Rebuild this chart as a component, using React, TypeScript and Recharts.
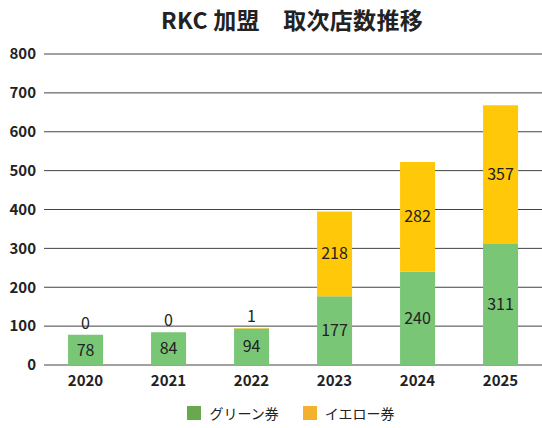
import React from "react";
import { BarChart, Bar, XAxis, YAxis, CartesianGrid, LabelList } from "recharts";

const years = ["2020", "2021", "2022", "2023", "2024", "2025"];
const green = [78, 84, 94, 177, 240, 311];
const yellow = [0, 0, 1, 218, 282, 357];
const yTicks = [0, 100, 200, 300, 400, 500, 600, 700, 800];

const data = years.map((y, i) => ({ year: y, green: green[i], yellow: yellow[i] }));

const FONT = '"Noto Sans CJK JP", "Noto Sans", sans-serif';
const GREEN = "#7AC677";
const YELLOW = "#FFC808";
const LABEL_SIZE = 16;

const TopLabel = ({ cx, y, value }: { cx: number; y: number; value: number }) => (
  <text x={cx} y={y - 6} textAnchor="middle" fontSize={LABEL_SIZE} fill="#222" fontFamily={FONT}>
    {value}
  </text>
);

const YellowLabel = (props: any) => {
  const { x, y, width, height, value } = props;
  if (value === 0 || value == null) return null;
  const cx = x + width / 2;
  if (value < 20) return <TopLabel cx={cx} y={y} value={value} />;
  return (
    <text x={cx} y={y + height / 2} dy="0.35em" textAnchor="middle" fontSize={LABEL_SIZE} fill="#222" fontFamily={FONT}>
      {value}
    </text>
  );
};

const ZeroYellowLabel = (props: any) => {
  const { x, y, width, index } = props;
  const v = yellow[index];
  if (v !== 0) return null;
  return <TopLabel cx={x + width / 2} y={y} value={v} />;
};

export default function App() {
  return (
    <div style={{ position: "fixed", left: 0, top: 0, width: 542, height: 428, background: "#fff", fontFamily: FONT }}>
      <div style={{ position: "absolute", left: 0, top: 2, width: 584, textAlign: "center", fontSize: 23, fontWeight: 700, color: "#222", letterSpacing: 0.3 }}>
        RKC 加盟　取次店数推移
      </div>
      <BarChart
        width={542}
        height={428}
        data={data}
        margin={{ top: 54, right: 0, left: 0, bottom: 33 }}
        barCategoryGap="29%"
      >
        <CartesianGrid vertical={false} stroke="#444" strokeWidth={1} />
        <XAxis
          dataKey="year"
          axisLine={false}
          tickLine={false}
          height={30}
          tickMargin={4}
          tick={{ fontSize: 15, fontWeight: 700, fill: "#222", fontFamily: FONT }}
        />
        <YAxis
          width={44}
          domain={[0, 800]}
          ticks={yTicks}
          axisLine={false}
          tickLine={false}
          tick={{ fontSize: 15, fontWeight: 700, fill: "#222", fontFamily: FONT }}
        />
        <Bar dataKey="green" stackId="a" fill={GREEN} isAnimationActive={false}>
          <LabelList dataKey="green" position="center" fontSize={LABEL_SIZE} fill="#222" fontFamily={FONT} />
          <LabelList dataKey="green" content={<ZeroYellowLabel />} />
        </Bar>
        <Bar dataKey="yellow" stackId="a" fill={YELLOW} isAnimationActive={false}>
          <LabelList dataKey="yellow" content={<YellowLabel />} />
        </Bar>
      </BarChart>
      <div style={{ position: "absolute", top: 403, left: 0, width: 542, display: "flex", justifyContent: "center", paddingLeft: 40, boxSizing: "border-box", fontSize: 14, color: "#222" }}>
        <span style={{ display: "flex", alignItems: "center", marginRight: 24 }}>
          <span style={{ width: 14, height: 14, background: "#6AA84F", marginRight: 8, display: "inline-block" }} />
          グリーン券
        </span>
        <span style={{ display: "flex", alignItems: "center" }}>
          <span style={{ width: 14, height: 14, background: "#F4B12E", marginRight: 8, display: "inline-block" }} />
          イエロー券
        </span>
      </div>
    </div>
  );
}
